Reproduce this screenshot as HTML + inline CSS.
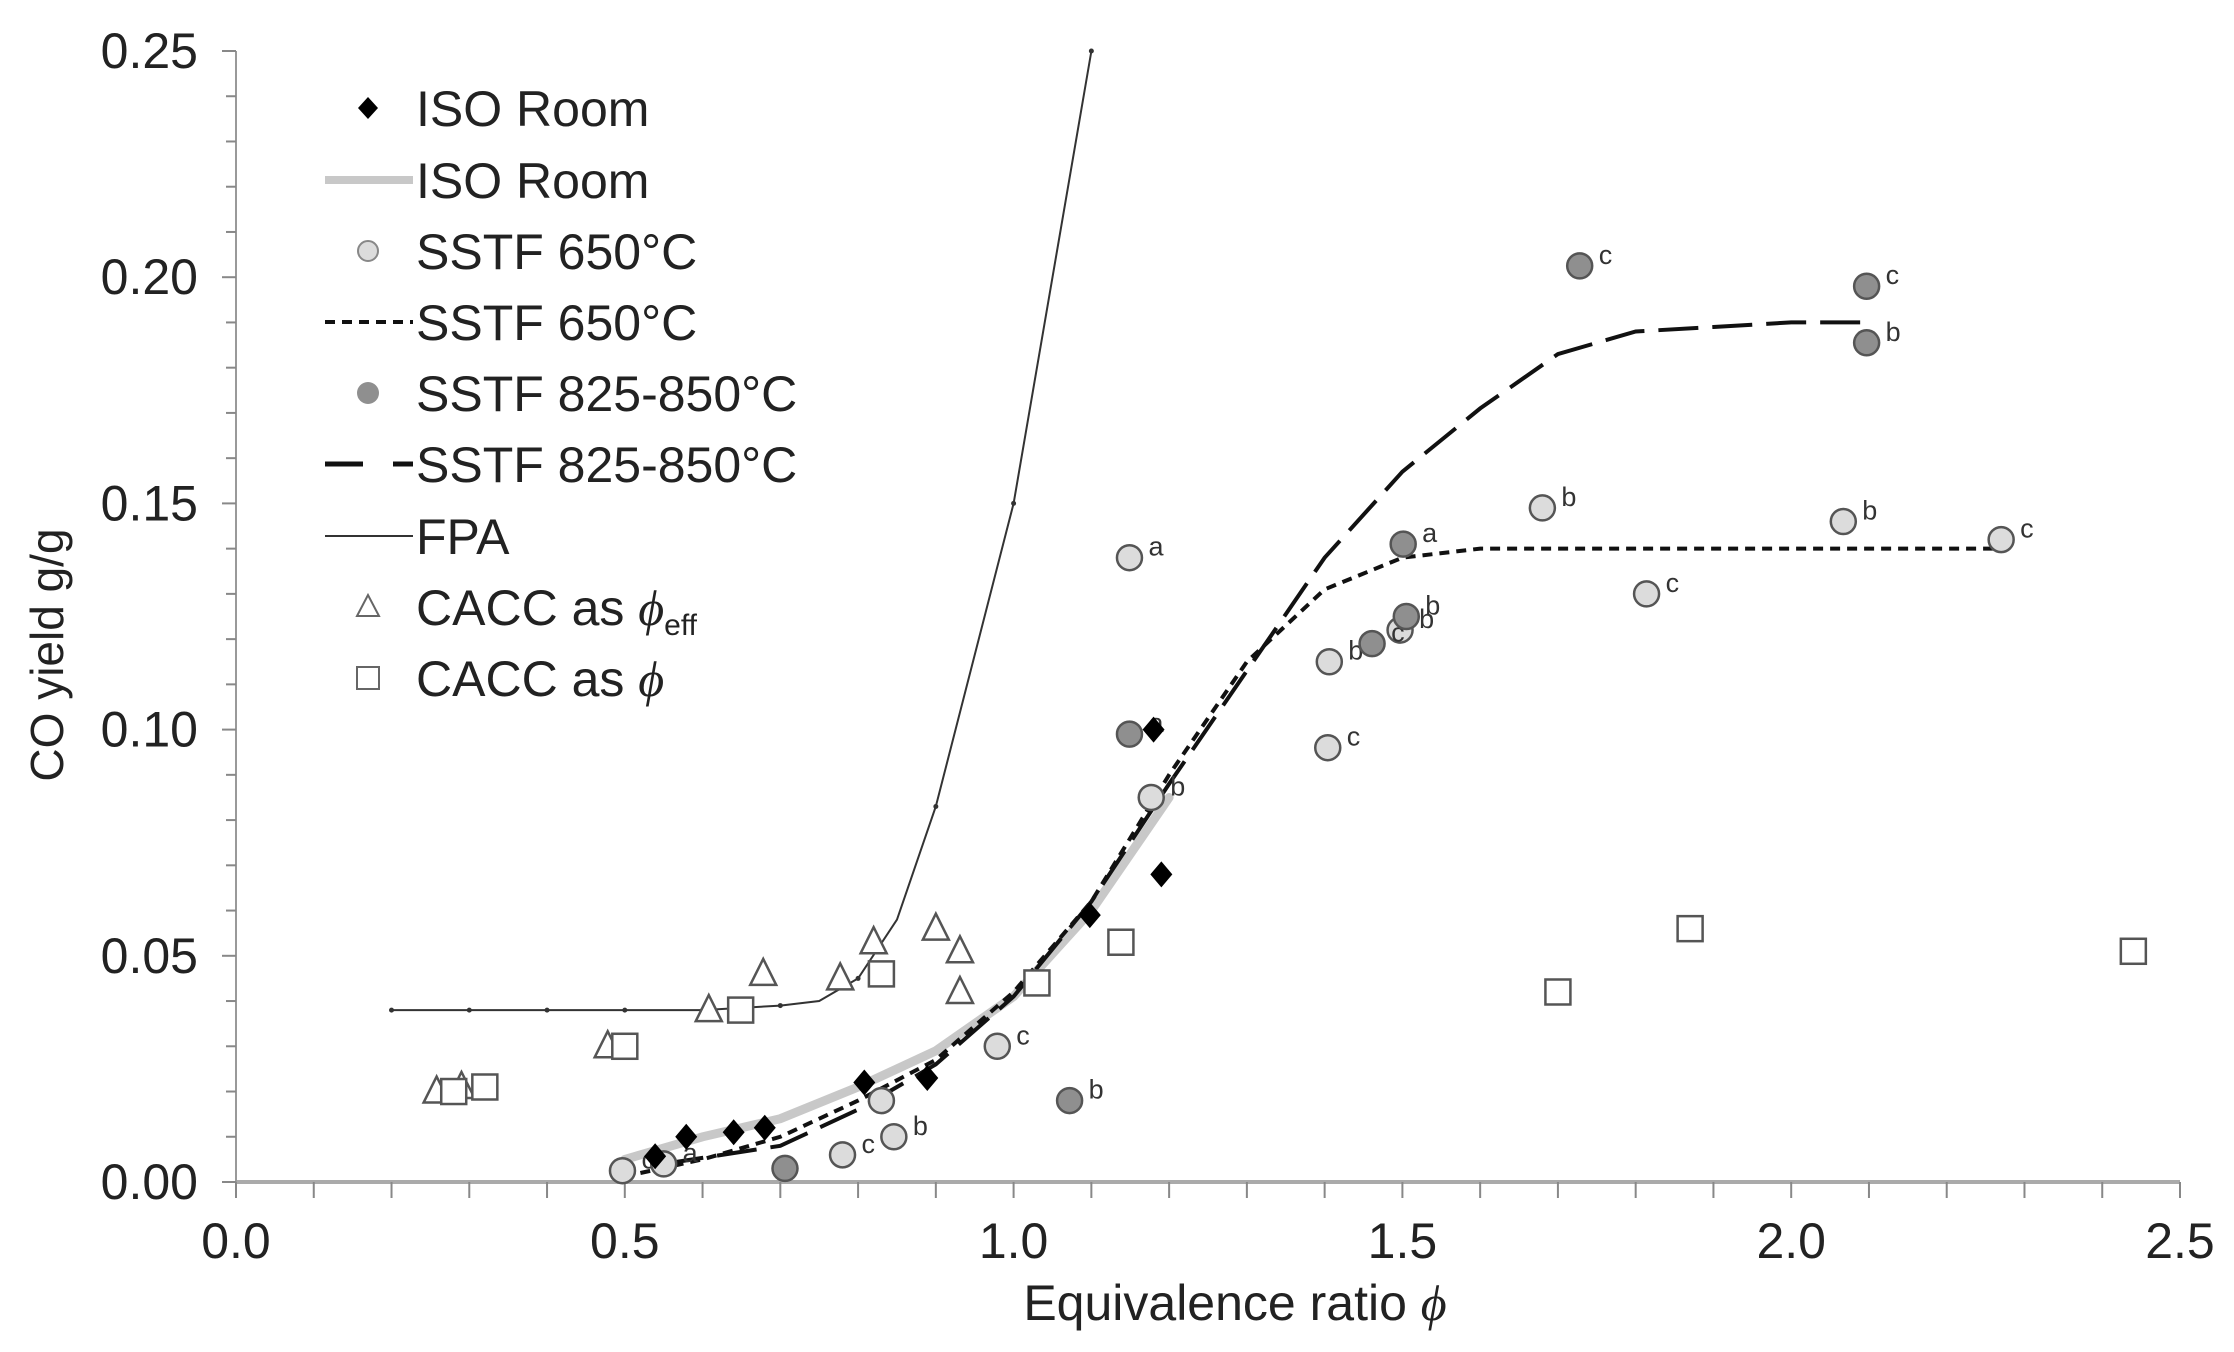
<!DOCTYPE html>
<html><head><meta charset="utf-8"><style>
body{margin:0;background:#fff;}
svg{display:block;font-family:"Liberation Sans",sans-serif;}
</style></head><body>
<svg id="chart" width="2234" height="1352" viewBox="0 0 2234 1352" xmlns="http://www.w3.org/2000/svg">
<g id="axes"></g>
<g id="series"></g>
<g id="legend"></g>
</svg>
<script>
const xTicks=[0,0.5,1.0,1.5,2.0,2.5];
const xTickLabels=["0.0","0.5","1.0","1.5","2.0","2.5"];
const yTicks=[0,0.05,0.10,0.15,0.20,0.25];
const yTickLabels=["0.00","0.05","0.10","0.15","0.20","0.25"];
const isoX=[0.539,0.579,0.64,0.68,0.808,0.889,1.098,1.18,1.19];
const isoY=[0.0057,0.010,0.011,0.012,0.022,0.023,0.059,0.100,0.068];
const isoLineX=[0.5,0.6,0.7,0.8,0.9,1.0,1.1,1.2];
const isoLineY=[0.005,0.010,0.014,0.021,0.029,0.041,0.060,0.085];
const s650X=[0.497,0.55,0.78,0.83,0.846,0.979,1.149,1.177,1.404,1.406,1.497,1.68,1.814,2.067,2.27];
const s650Y=[0.0025,0.004,0.006,0.018,0.010,0.030,0.138,0.085,0.096,0.115,0.122,0.149,0.130,0.146,0.142];
const s650L=["c","a","c","","b","c","a","b","c","b","b","b","c","b","c"];
const s650LineX=[0.52,0.6,0.7,0.8,0.9,1.0,1.1,1.2,1.3,1.4,1.5,1.6,1.8,2.0,2.27];
const s650LineY=[0.002,0.005,0.010,0.018,0.027,0.042,0.062,0.090,0.115,0.131,0.138,0.140,0.140,0.140,0.140];
const s825X=[0.706,1.072,1.149,1.501,1.461,1.505,1.728,2.097,2.097];
const s825Y=[0.003,0.018,0.099,0.141,0.119,0.125,0.2025,0.198,0.1855];
const s825L=["","b","a","a","c","b","c","c","b"];
const s825LineX=[0.55,0.7,0.8,0.9,1.0,1.1,1.2,1.3,1.4,1.5,1.6,1.7,1.8,1.9,2.0,2.1];
const s825LineY=[0.004,0.008,0.016,0.026,0.041,0.062,0.088,0.113,0.138,0.157,0.171,0.183,0.188,0.189,0.190,0.190];
const fpaX=[0.2,0.3,0.4,0.5,0.6,0.7,0.75,0.8,0.85,0.9,1.0,1.1];
const fpaY=[0.038,0.038,0.038,0.038,0.038,0.039,0.040,0.045,0.058,0.083,0.150,0.250];
const triX=[0.258,0.29,0.478,0.608,0.678,0.777,0.82,0.9,0.931,0.931];
const triY=[0.020,0.021,0.030,0.038,0.046,0.045,0.053,0.056,0.051,0.042];
const sqX=[0.28,0.32,0.5,0.649,0.83,1.03,1.138,1.70,1.87,2.44];
const sqY=[0.020,0.021,0.030,0.038,0.046,0.044,0.053,0.042,0.056,0.051];

const X0=236,X1=2180,Y0=1182,Y1=51;
function sx(v){return X0+(v/2.5)*(X1-X0);}
function sy(v){return Y0-(v/0.25)*(Y0-Y1);}
const NS="http://www.w3.org/2000/svg";
function mk(tag,attrs,parent){const e=document.createElementNS(NS,tag);for(const k in attrs)e.setAttribute(k,attrs[k]);parent.appendChild(e);return e;}
const axes=document.getElementById('axes'),ser=document.getElementById('series'),leg=document.getElementById('legend');

let ax=mk('line',{x1:X0,y1:Y0,x2:X1,y2:Y0,stroke:'#aaa','stroke-width':4},axes);

let ay=mk('line',{x1:X0,y1:Y0,x2:X0,y2:Y1,stroke:'#999','stroke-width':2},axes);

for(let i=0;i<=25;i++){const v=i*0.1;mk('line',{x1:sx(v),y1:Y0,x2:sx(v),y2:Y0+16,stroke:'#888','stroke-width':2},axes);}
for(let i=0;i<=25;i++){const v=i*0.01;mk('line',{x1:X0-(i%5==0?14:10),y1:sy(v),x2:X0,y2:sy(v),stroke:'#888','stroke-width':2},axes);}
xTicks.forEach((v,i)=>{const t=mk('text',{x:sx(v),y:Y0+76,'font-size':50,'text-anchor':'middle',fill:'#222'},axes);t.textContent=xTickLabels[i];
});
yTicks.forEach((v,i)=>{const t=mk('text',{x:198,y:sy(v)+17,'font-size':50,'text-anchor':'end',fill:'#222'},axes);t.textContent=yTickLabels[i];
});
let xt=mk('text',{x:1235,y:1320,'font-size':50,'text-anchor':'middle',fill:'#222'},axes);
xt.innerHTML='Equivalence ratio <tspan font-family="Liberation Serif" font-style="italic">ϕ</tspan>';

let yt=mk('text',{x:0,y:0,'font-size':46,'text-anchor':'middle',fill:'#222',transform:'translate(63,655) rotate(-90)'},axes);
yt.textContent='CO yield g/g';


function path(xs,ys){return xs.map((x,i)=>(i?'L':'M')+sx(x).toFixed(1)+' '+sy(ys[i]).toFixed(1)).join(' ');}
let p=mk('path',{d:path(isoLineX,isoLineY),fill:'none',stroke:'#c8c8c8','stroke-width':9,'stroke-linecap':'round'},ser);

p=mk('path',{d:path(s650LineX,s650LineY),fill:'none',stroke:'#111','stroke-width':4,'stroke-dasharray':'10 7'},ser);

p=mk('path',{d:path(s825LineX,s825LineY),fill:'none',stroke:'#111','stroke-width':4,'stroke-dasharray':'40 14'},ser);

p=mk('path',{d:path(fpaX,fpaY),fill:'none',stroke:'#333','stroke-width':2},ser);

fpaX.forEach((x,i)=>{if(i==6||i==8)return;const c=mk('circle',{cx:sx(x),cy:sy(fpaY[i]),r:2.5,fill:'#333'},ser);
});

triX.forEach((x,i)=>{const cx=sx(x),cy=sy(triY[i]);const e=mk('polygon',{points:`${cx},${cy-15} ${cx-13},${cy+11} ${cx+13},${cy+11}`,fill:'#fff',stroke:'#555','stroke-width':2.5},ser);
});
sqX.forEach((x,i)=>{const cx=sx(x),cy=sy(sqY[i]);const e=mk('rect',{x:cx-12.5,y:cy-12.5,width:25,height:25,fill:'#fff',stroke:'#555','stroke-width':2.5},ser);
});
function circ(xs,ys,ls,fill,name){xs.forEach((x,i)=>{const cx=sx(x),cy=sy(ys[i]);const e=mk('circle',{cx:cx,cy:cy,r:12.5,fill:fill,stroke:'#555','stroke-width':2.5},ser);

if(ls[i]){const t=mk('text',{x:cx+19,y:cy-2,'font-size':27,fill:'#333'},ser);t.textContent=ls[i];
}});}
circ(s650X,s650Y,s650L,'#dcdcdc','sstf-650-point');
circ(s825X,s825Y,s825L,'#8f8f8f','sstf-825-point');
isoX.forEach((x,i)=>{const cx=sx(x),cy=sy(isoY[i]);const e=mk('polygon',{points:`${cx},${cy-13} ${cx+11},${cy} ${cx},${cy+13} ${cx-11},${cy}`,fill:'#000'},ser);
});

// legend
const rows=[108,180,251,322,393,464,536,607,678];
const labels=['ISO Room','ISO Room','SSTF 650°C','SSTF 650°C','SSTF 825-850°C','SSTF 825-850°C','FPA','CACC as ϕeff','CACC as ϕ'];
const mx=368,tx=416;
rows.forEach((y,i)=>{
  const g=mk('g',{},leg);
  
  if(i==0)mk('polygon',{points:`${mx},${y-11} ${mx+10},${y} ${mx},${y+11} ${mx-10},${y}`,fill:'#000'},g);
  if(i==1)mk('line',{x1:325,y1:y,x2:413,y2:y,stroke:'#c8c8c8','stroke-width':8},g);
  if(i==2)mk('circle',{cx:mx,cy:y,r:10,fill:'#dcdcdc',stroke:'#888','stroke-width':2},g);
  if(i==3)mk('line',{x1:325,y1:y,x2:413,y2:y,stroke:'#111','stroke-width':4,'stroke-dasharray':'10 7'},g);
  if(i==4)mk('circle',{cx:mx,cy:y,r:11,fill:'#8f8f8f'},g);
  if(i==5){mk('line',{x1:325,y1:y,x2:363,y2:y,stroke:'#111','stroke-width':5},g);mk('line',{x1:393,y1:y,x2:413,y2:y,stroke:'#111','stroke-width':5},g);}
  if(i==6)mk('line',{x1:325,y1:y,x2:413,y2:y,stroke:'#333','stroke-width':2},g);
  if(i==7)mk('polygon',{points:`${mx},${y-12} ${mx-11},${y+9} ${mx+11},${y+9}`,fill:'#fff',stroke:'#666','stroke-width':2},g);
  if(i==8)mk('rect',{x:mx-11,y:y-11,width:22,height:22,fill:'#fff',stroke:'#666','stroke-width':2},g);
  const t=mk('text',{x:tx,y:y+18,'font-size':50,fill:'#222'},g);
  if(i==7)t.innerHTML='CACC as <tspan font-family="Liberation Serif" font-style="italic">ϕ</tspan><tspan font-size="30" dy="10">eff</tspan>';
  else if(i==8)t.innerHTML='CACC as <tspan font-family="Liberation Serif" font-style="italic">ϕ</tspan>';
  else t.textContent=labels[i];
});
</script>
</body></html>
